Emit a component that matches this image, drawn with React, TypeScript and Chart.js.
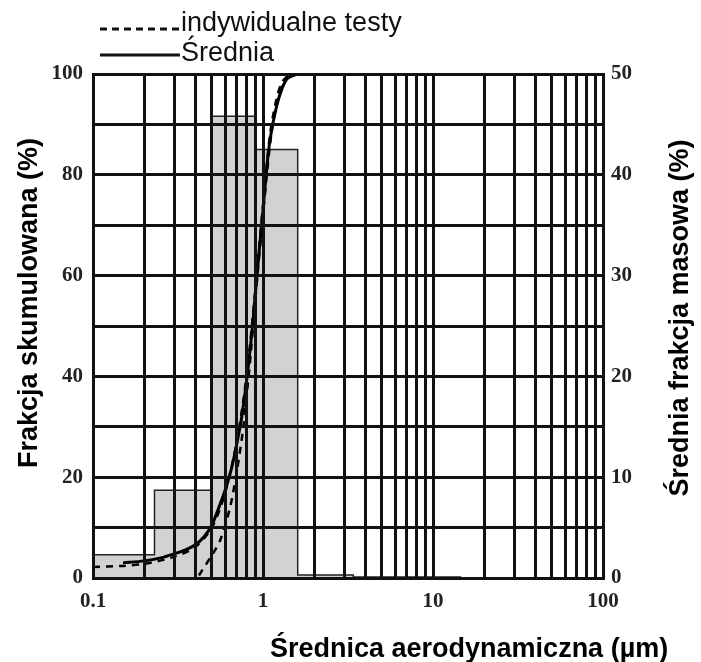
import React, { useEffect, useRef } from 'react';
import { Chart, registerables } from 'chart.js';

Chart.register(...registerables);

// Histogram: bin edges (µm) and mean mass fraction per bin (%, right axis)
const binEdges = [0.1, 0.23, 0.5, 0.9, 1.6, 3.4, 14.5];
const massFraction = [2.3, 8.7, 45.8, 42.5, 0.3, 0.1];

// Mean cumulative curve
const meanSize = [0.15, 0.2, 0.25, 0.3, 0.35, 0.4, 0.45, 0.5, 0.55, 0.6, 0.65, 0.7, 0.75, 0.8, 0.85, 0.9, 0.95, 1.0, 1.05, 1.1, 1.2, 1.3, 1.4, 1.6];
const meanCumulative = [3.0, 3.4, 4.0, 4.8, 5.6, 6.6, 8.2, 10.5, 14, 17.5, 21.5, 26.5, 32, 39, 47, 56, 65, 73, 81, 87, 93.5, 97.3, 99.2, 100];

// Individual tests
const test1Size = [0.1, 0.15, 0.2, 0.3, 0.4, 0.5, 0.6, 0.7, 0.8, 0.9, 1.0, 1.1, 1.2, 1.3, 1.45];
const test1Cumulative = [2.2, 2.4, 2.8, 4.2, 6.2, 10, 17, 27, 40, 57, 74, 88, 95, 98.5, 100];
const test2Size = [0.42, 0.44, 0.5, 0.56, 0.64, 0.7, 0.76, 0.8, 0.85, 0.9, 1.0, 1.1, 1.2, 1.35, 1.5];
const test2Cumulative = [0.5, 1.6, 4.5, 7.5, 14, 21, 29, 36, 45, 55, 72, 86, 94, 99, 100];

// Axis ticks
const xGridValues = [0.1, 0.2, 0.3, 0.4, 0.5, 0.6, 0.7, 0.8, 0.9, 1, 2, 3, 4, 5, 6, 7, 8, 9, 10, 20, 30, 40, 50, 60, 70, 80, 90, 100];
const xLabelValues = [0.1, 1, 10, 100];
const leftLabelValues = [0, 20, 40, 60, 80, 100];

const legendLabels = ['indywidualne testy', 'Średnia'];
const xTitle = 'Średnica aerodynamiczna (µm)';
const yTitle = 'Frakcja skumulowana (%)';
const y1Title = 'Średnia frakcja masowa (%)';

const textPlugin = {
  id: 'customText',
  afterDraw(chart: any) {
    const ctx = chart.ctx as CanvasRenderingContext2D;
    ctx.save();
    // legend
    ctx.strokeStyle = '#111';
    ctx.lineWidth = 3;
    ctx.setLineDash([7, 5]);
    ctx.beginPath();
    ctx.moveTo(100, 29);
    ctx.lineTo(179, 29);
    ctx.stroke();
    ctx.setLineDash([]);
    ctx.beginPath();
    ctx.moveTo(100, 55);
    ctx.lineTo(180, 55);
    ctx.stroke();
    ctx.fillStyle = '#111';
    ctx.font = '27px "Liberation Sans", Arial, sans-serif';
    ctx.textAlign = 'left';
    ctx.textBaseline = 'alphabetic';
    ctx.fillText(legendLabels[0], 181, 31);
    ctx.fillText(legendLabels[1], 181, 61);

    // axis titles
    ctx.fillStyle = '#000';
    ctx.font = 'bold 27px "Liberation Sans", Arial, sans-serif';
    ctx.textBaseline = 'middle';
    ctx.textAlign = 'left';
    ctx.fillText(xTitle, 270, 650);

    ctx.textAlign = 'center';
    ctx.save();
    ctx.translate(30, 303);
    ctx.rotate(-Math.PI / 2);
    ctx.fillText(yTitle, 0, 0);
    ctx.restore();

    ctx.save();
    ctx.translate(681, 318);
    ctx.rotate(-Math.PI / 2);
    ctx.fillText(y1Title, 0, 0);
    ctx.restore();
    ctx.restore();
  },
};

export default function App() {
  const canvasRef = useRef<HTMLCanvasElement | null>(null);

  useEffect(() => {
    if (!canvasRef.current) return;
    const histData = binEdges.map((e, i) => ({ x: e, y: i < massFraction.length ? massFraction[i] : 0 }));
    const tickFont = { family: '"Liberation Serif", "Times New Roman", serif', weight: 'bold' as const, size: 21 };
    const gridColor = '#111';

    const chart = new Chart(canvasRef.current, {
      type: 'line',
      data: {
        datasets: [
          {
            label: 'Średnia (krzywa)',
            data: meanSize.map((x, i) => ({ x, y: meanCumulative[i] })),
            borderColor: '#000',
            borderWidth: 3,
            pointRadius: 0,
            fill: false,
            tension: 0.3,
            yAxisID: 'y',
          },
          {
            label: 'test 1',
            data: test1Size.map((x, i) => ({ x, y: test1Cumulative[i] })),
            borderColor: '#000',
            borderWidth: 2.5,
            borderDash: [7, 6],
            pointRadius: 0,
            fill: false,
            tension: 0.3,
            yAxisID: 'y',
          },
          {
            label: 'test 2',
            data: test2Size.map((x, i) => ({ x, y: test2Cumulative[i] })),
            borderColor: '#000',
            borderWidth: 2.5,
            borderDash: [7, 6],
            pointRadius: 0,
            fill: false,
            tension: 0.3,
            yAxisID: 'y',
          },
          {
            label: 'Średnia frakcja masowa',
            data: histData,
            stepped: 'before',
            borderColor: '#222',
            borderWidth: 1.5,
            backgroundColor: '#d2d2d2',
            pointRadius: 0,
            fill: 'origin',
            yAxisID: 'y1',
          },
        ],
      },
      options: {
        animation: false,
        responsive: false,
        layout: { padding: { top: 74, left: 0, right: 0, bottom: 0 } },
        plugins: {
          legend: { display: false },
          tooltip: { enabled: false },
        },
        scales: {
          x: {
            type: 'logarithmic',
            min: 0.1,
            max: 100,
            afterBuildTicks: (scale: any) => {
              scale.ticks = xGridValues.map((v) => ({ value: v }));
            },
            afterFit: (scale: any) => {
              scale.height = 84;
            },
            grid: { color: gridColor, lineWidth: 3, drawTicks: false, z: 1 },
            border: { display: true, color: gridColor, width: 3, z: 1 },
            ticks: {
              autoSkip: false,
              maxRotation: 0,
              minRotation: 0,
              padding: 11,
              color: '#222',
              font: tickFont,
              callback: (v: any) => (xLabelValues.includes(Number(v)) ? String(v) : ''),
            },
          },
          y: {
            type: 'linear',
            position: 'left',
            min: 0,
            max: 100,
            afterFit: (scale: any) => {
              scale.width = 93;
            },
            grid: { color: gridColor, lineWidth: 3, drawTicks: false, z: 1 },
            border: { display: true, color: gridColor, width: 3, z: 1 },
            ticks: {
              stepSize: 10,
              padding: 10,
              color: '#222',
              font: tickFont,
              callback: (v: any) => (leftLabelValues.includes(Number(v)) ? String(v) : ''),
            },
          },
          y1: {
            type: 'linear',
            position: 'right',
            min: 0,
            max: 50,
            afterFit: (scale: any) => {
              scale.width = 98;
            },
            grid: { display: false, drawTicks: false },
            border: { display: true, color: gridColor, width: 3, z: 1 },
            ticks: {
              stepSize: 10,
              padding: 8,
              color: '#222',
              font: tickFont,
            },
          },
        },
      },
      plugins: [textPlugin],
    });

    return () => chart.destroy();
  }, []);

  return (
    <div style={{ position: 'absolute', left: 0, top: 0, width: 701, height: 662, background: '#fff' }}>
      <canvas ref={canvasRef} width={701} height={662} style={{ display: 'block' }} />
    </div>
  );
}
